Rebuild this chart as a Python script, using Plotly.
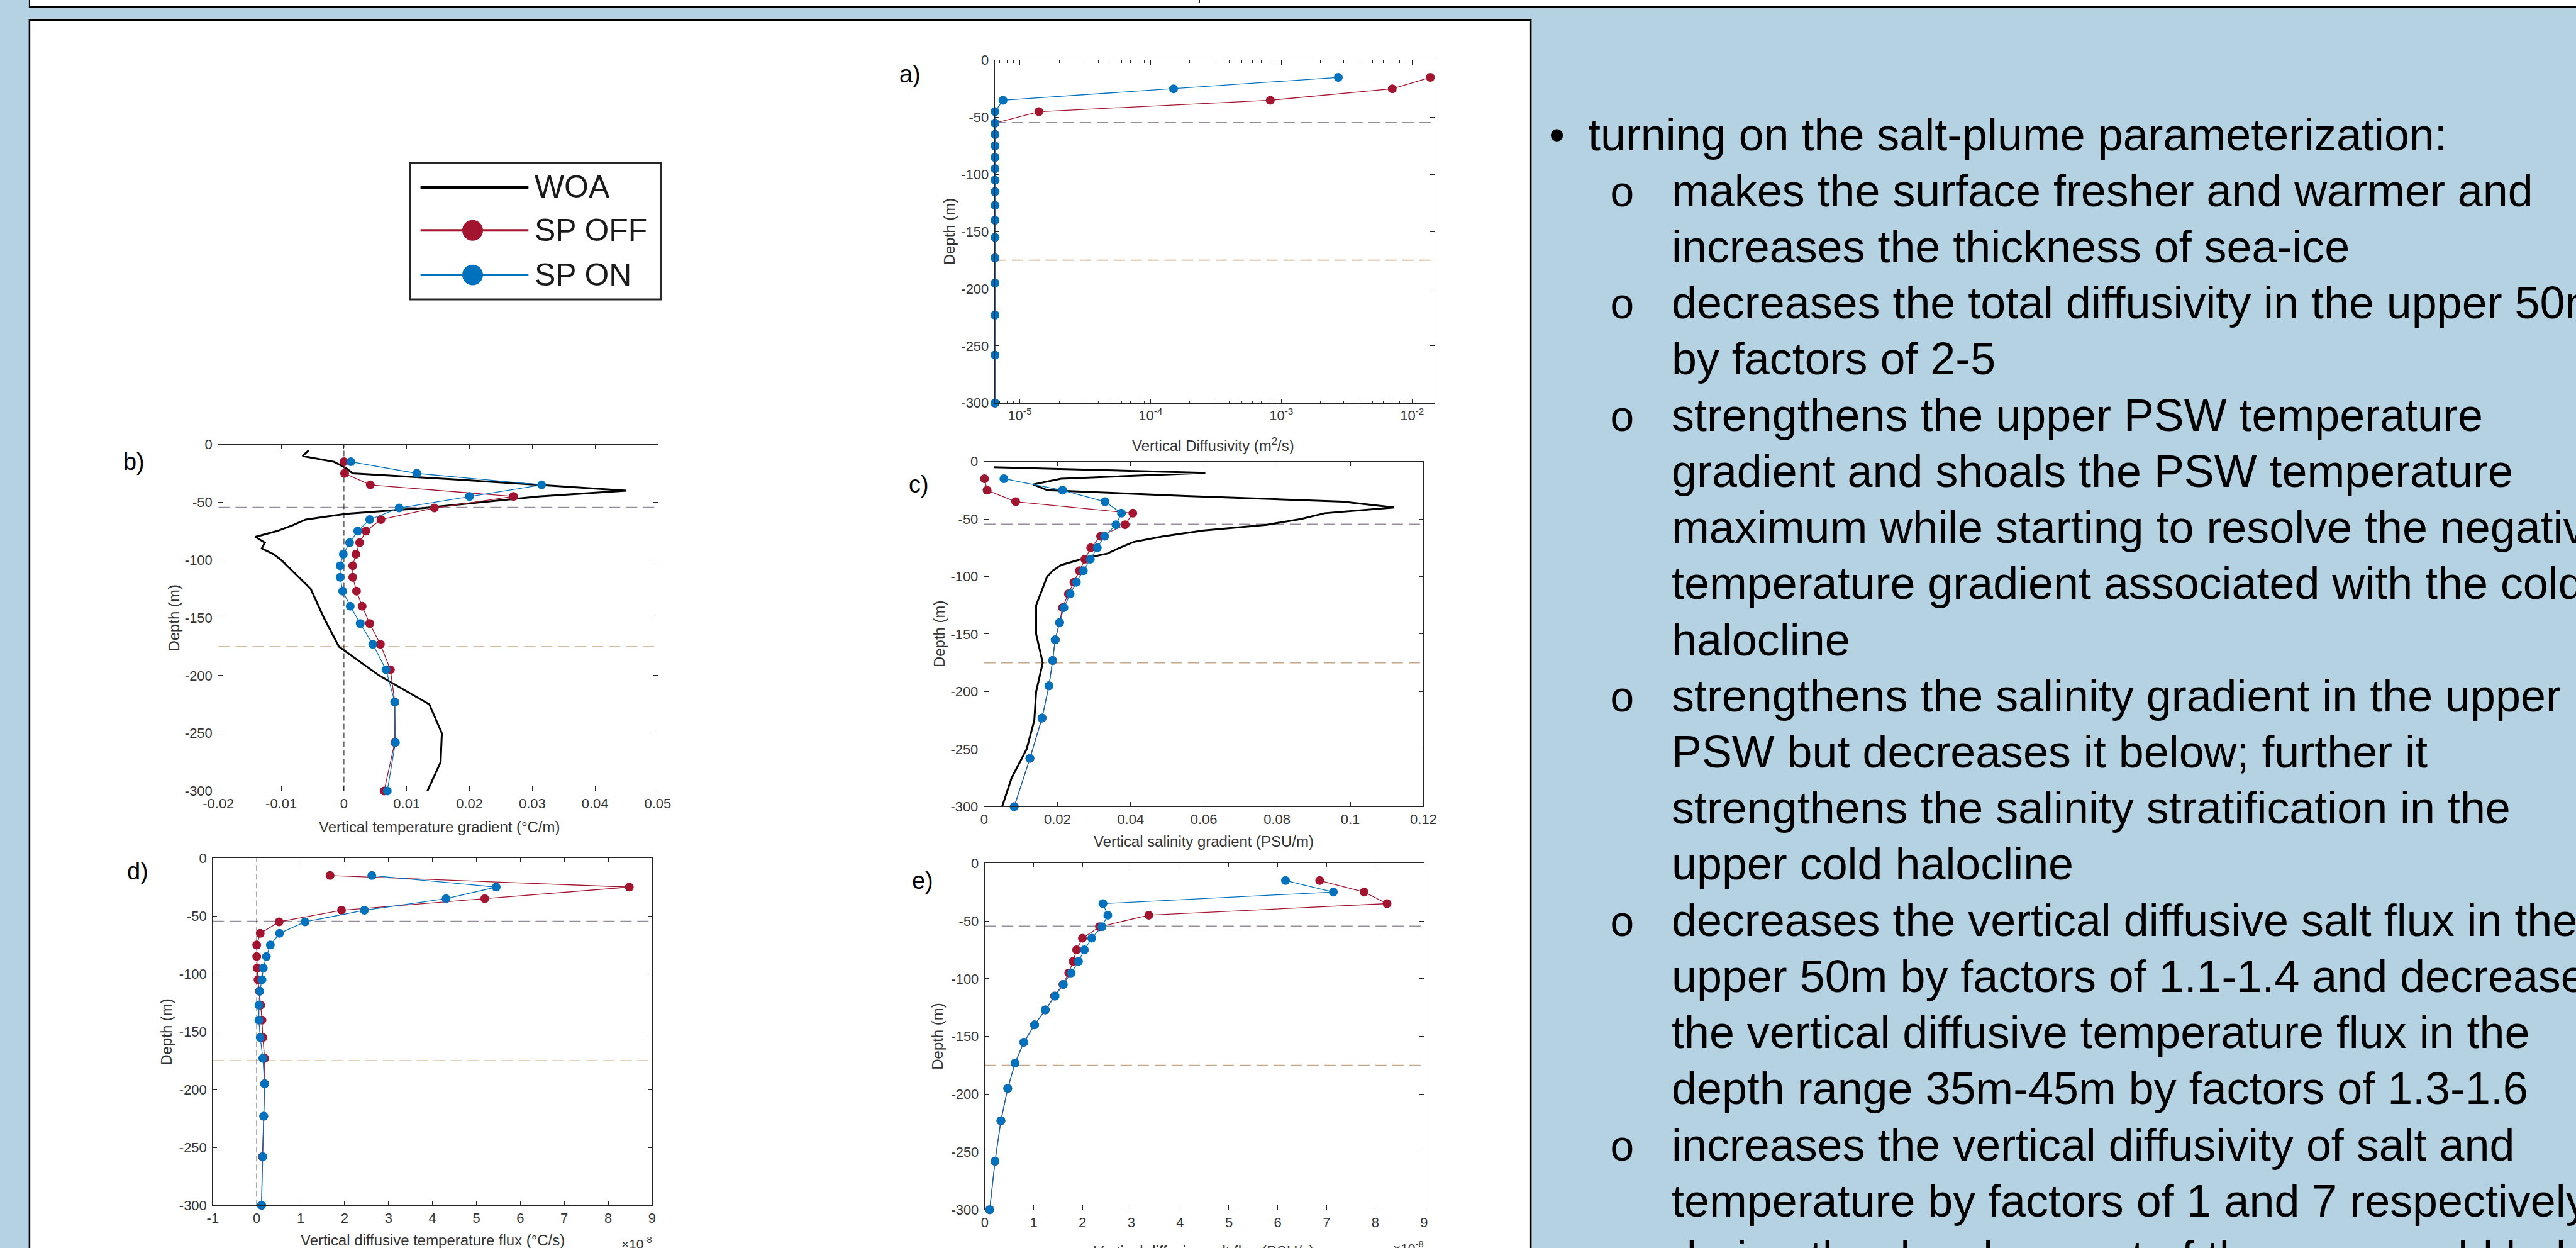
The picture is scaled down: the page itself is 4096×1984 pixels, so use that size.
import plotly.graph_objects as go

# ---------------- data ----------------
model_depth = [-15, -25, -35, -45, -55, -65, -75, -85, -95, -105, -115, -127,
               -140, -155, -173, -195, -223, -258, -300]
woa_depth = [-5, -10, -15, -20, -25, -30, -35, -40, -45, -50, -55, -60, -65, -70,
             -75, -80, -85, -90, -95, -100, -125, -150, -175, -200, -225, -250, -275, -300]

# a) vertical diffusivity (m2/s)
kappa_sp_off = [1.38e-2, 7.06e-3, 8.24e-4, 1.40e-5, 6.47e-6, 6.47e-6, 6.47e-6, 6.47e-6,
                6.47e-6, 6.47e-6, 6.47e-6, 6.47e-6, 6.47e-6, 6.47e-6, 6.47e-6, 6.47e-6,
                6.47e-6, 6.47e-6, 6.47e-6]
kappa_sp_on = [2.73e-3, 1.50e-4, 7.45e-6, 6.47e-6, 6.47e-6, 6.47e-6, 6.47e-6, 6.47e-6,
               6.47e-6, 6.47e-6, 6.47e-6, 6.47e-6, 6.47e-6, 6.47e-6, 6.47e-6, 6.47e-6,
               6.47e-6, 6.47e-6, 6.47e-6]

# b) vertical temperature gradient (degC/m)
dTdz_woa = [-0.0056, -0.0066, -0.0016, 0.0002, 0.0014, 0.017, 0.031, 0.045, 0.031, 0.0216,
            0.0129, 0.0004, -0.0061, -0.0082, -0.0107, -0.0141, -0.0126, -0.0131, -0.0112,
            -0.0100, -0.0053, -0.0032, -0.0008, 0.0056, 0.0136, 0.0156, 0.0154, 0.0133]
dTdz_sp_off = [0.0, 0.0001, 0.0042, 0.0270, 0.0144, 0.0059, 0.0035, 0.0025, 0.0019, 0.0014,
               0.0014, 0.0020, 0.0029, 0.0041, 0.0058, 0.0074, 0.0081, 0.0081, 0.0064]
dTdz_sp_on = [0.0011, 0.0116, 0.0315, 0.0200, 0.0088, 0.0041, 0.0022, 0.0009, -0.0001,
              -0.0006, -0.0006, -0.0002, 0.0010, 0.0026, 0.0046, 0.0067, 0.0081, 0.0082, 0.0069]

# c) vertical salinity gradient (PSU/m)
dSdz_woa = [0.0026, 0.0604, 0.021, 0.0134, 0.0173, 0.055, 0.098, 0.112, 0.093, 0.0866,
            0.0772, 0.060, 0.049, 0.0408, 0.037, 0.0337, 0.0265, 0.021, 0.0187, 0.0172,
            0.0142, 0.0142, 0.016, 0.0142, 0.0137, 0.0116, 0.0075, 0.0049]
dSdz_sp_off = [0.0001, 0.0008, 0.0086, 0.0406, 0.0385, 0.0318, 0.0291, 0.0275, 0.0260,
               0.0245, 0.0230, 0.0214, 0.0206, 0.0194, 0.0187, 0.0177, 0.0158, 0.0125, 0.0082]
dSdz_sp_on = [0.0054, 0.0214, 0.0330, 0.0375, 0.0360, 0.0329, 0.0309, 0.0290, 0.0271,
              0.0252, 0.0235, 0.0218, 0.0206, 0.0194, 0.0187, 0.0177, 0.0158, 0.0125, 0.0082]

# d) vertical diffusive temperature flux (x1e-8 degC/s)
tflux_sp_off = [1.67, 8.48, 5.19, 1.93, 0.51, 0.08, 0.0, 0.0, 0.01, 0.03, 0.06, 0.09,
                0.12, 0.14, 0.18, 0.18, 0.16, 0.13, 0.11]
tflux_sp_on = [2.62, 5.45, 4.31, 2.45, 1.10, 0.52, 0.31, 0.22, 0.15, 0.12, 0.07, 0.05,
               0.05, 0.08, 0.14, 0.18, 0.16, 0.14, 0.11]

# e) vertical diffusive salt flux (x1e-8 PSU/s)
sflux_sp_off = [6.86, 7.77, 8.24, 3.36, 2.35, 2.00, 1.88, 1.81, 1.72, 1.60, 1.43, 1.24,
                1.02, 0.80, 0.62, 0.47, 0.33, 0.21, 0.10]
sflux_sp_on = [6.16, 7.14, 2.42, 2.52, 2.40, 2.19, 2.04, 1.92, 1.77, 1.61, 1.44, 1.24,
               1.02, 0.80, 0.62, 0.47, 0.33, 0.21, 0.10]

# horizontal reference depths (dashed lines)
ref_depths = [-54.5, -175]

depth_ticks = [-300, -250, -200, -150, -100, -50, 0]
depth_ticktext = ["-300", "-250", "-200", "-150", "-100", "-50", "0"]
a_ticks = [1e-5, 1e-4, 1e-3, 1e-2]
a_ticktext = ["10<sup>-5</sup>", "10<sup>-4</sup>", "10<sup>-3</sup>", "10<sup>-2</sup>"]
b_ticks = [-0.02, -0.01, 0, 0.01, 0.02, 0.03, 0.04, 0.05]
b_ticktext = ["-0.02", "-0.01", "0", "0.01", "0.02", "0.03", "0.04", "0.05"]
c_ticks = [0, 0.02, 0.04, 0.06, 0.08, 0.1, 0.12]
c_ticktext = ["0", "0.02", "0.04", "0.06", "0.08", "0.1", "0.12"]
d_ticks = [-1, 0, 1, 2, 3, 4, 5, 6, 7, 8, 9]
d_ticktext = ["-1", "0", "1", "2", "3", "4", "5", "6", "7", "8", "9"]
e_ticks = [0, 1, 2, 3, 4, 5, 6, 7, 8, 9]
e_ticktext = ["0", "1", "2", "3", "4", "5", "6", "7", "8", "9"]

legend_labels = ["WOA", "SP OFF", "SP ON"]

right_lines = [
    ("•", "turning on the salt-plume parameterization:"),
    ("o", "makes the surface fresher and warmer and"),
    ("", "increases the thickness of sea-ice"),
    ("o", "decreases the total diffusivity in the upper 50m"),
    ("", "by factors of 2-5"),
    ("o", "strengthens the upper PSW temperature"),
    ("", "gradient and shoals the PSW temperature"),
    ("", "maximum while starting to resolve the negative"),
    ("", "temperature gradient associated with the cold"),
    ("", "halocline"),
    ("o", "strengthens the salinity gradient in the upper"),
    ("", "PSW but decreases it below; further it"),
    ("", "strengthens the salinity stratification in the"),
    ("", "upper cold halocline"),
    ("o", "decreases the vertical diffusive salt flux in the"),
    ("", "upper 50m by factors of 1.1-1.4 and decreases"),
    ("", "the vertical diffusive temperature flux in the"),
    ("", "depth range 35m-45m by factors of 1.3-1.6"),
    ("o", "increases the vertical diffusivity of salt and"),
    ("", "temperature by factors of 1 and 7 respectively"),
    ("", "during the development of the upper cold halocline"),
]

# ---------------- geometry helpers ----------------
S = 0.998
W, H = 4096, 1984


def px(v):
    return v * S / W


def py(v):
    return 1 - v * S / H


def fs(v):
    return v * S


FONT = "Liberation Sans"
RED = "#A2142F"
BLUE = "#0072BD"
AXC = "#262626"
TXC = "#333333"
BG = "#B4D2E2"
REF_COLORS = ["rgb(150,140,158)", "rgb(196,168,135)"]

fig = go.Figure()

# panel definitions: (left, right, top, bottom) in reference pixels
panels = [
    dict(name="a", box=(1585, 2286, 96, 642), letter=(1450, 118), xtitle=(1933, 708),
         ytitle=1512, title="Vertical Diffusivity (m<sup>2</sup>/s)"),
    dict(name="b", box=(348, 1048, 708, 1260), letter=(213, 735), xtitle=(700, 1317),
         ytitle=277, title="Vertical temperature gradient (°C/m)"),
    dict(name="c", box=(1568, 2268, 735, 1285), letter=(1464, 772), xtitle=(1918, 1340),
         ytitle=1497, title="Vertical salinity gradient (PSU/m)"),
    dict(name="d", box=(339, 1039, 1367, 1920), letter=(219, 1388), xtitle=(689, 1975),
         ytitle=265, title="Vertical diffusive temperature flux (°C/s)"),
    dict(name="e", box=(1569, 2269, 1375, 1927), letter=(1470, 1403), xtitle=(1918, 1993),
         ytitle=1494, title="Vertical diffusive salt flux (PSU/s)"),
]

series = {
    "a": (None, kappa_sp_off, kappa_sp_on),
    "b": (dTdz_woa, dTdz_sp_off, dTdz_sp_on),
    "c": (dSdz_woa, dSdz_sp_off, dSdz_sp_on),
    "d": (None, tflux_sp_off, tflux_sp_on),
    "e": (None, sflux_sp_off, sflux_sp_on),
}
xaxes_cfg = {
    "a": dict(type="log", range=[-5.1905, -1.826], tickvals=a_ticks, ticktext=a_ticktext),
    "b": dict(range=[-0.02, 0.05], tickvals=b_ticks, ticktext=b_ticktext),
    "c": dict(range=[0, 0.12], tickvals=c_ticks, ticktext=c_ticktext),
    "d": dict(range=[-1, 9], tickvals=d_ticks, ticktext=d_ticktext),
    "e": dict(range=[0, 9], tickvals=e_ticks, ticktext=e_ticktext),
}

common = dict(showline=True, linecolor=AXC, linewidth=1.3, mirror="allticks",
              ticks="inside", ticklen=7, tickwidth=1.2, tickcolor=AXC,
              showgrid=False, zeroline=False, tickmode="array",
              tickfont=dict(family=FONT, size=fs(22), color=TXC),
              automargin=False, fixedrange=True)

annotations = []
shapes = []

for i, p in enumerate(panels):
    n = "" if i == 0 else str(i + 1)
    xr, yr = "x" + n, "y" + n
    L, R, T, B = p["box"]
    woa, off, on = series[p["name"]]
    if woa is not None:
        fig.add_trace(go.Scatter(x=woa, y=woa_depth, mode="lines", xaxis=xr, yaxis=yr,
                                 line=dict(color="black", width=3), cliponaxis=False,
                                 name="WOA", showlegend=False))
    fig.add_trace(go.Scatter(x=off, y=model_depth, mode="lines+markers", xaxis=xr, yaxis=yr,
                             line=dict(color=RED, width=1.3),
                             marker=dict(color=RED, size=14, line=dict(width=0)),
                             cliponaxis=False, name="SP OFF", showlegend=False))
    fig.add_trace(go.Scatter(x=on, y=model_depth, mode="lines+markers", xaxis=xr, yaxis=yr,
                             line=dict(color=BLUE, width=1.3),
                             marker=dict(color=BLUE, size=14, line=dict(width=0)),
                             cliponaxis=False, name="SP ON", showlegend=False))

    xcfg = dict(common)
    xcfg.update(xaxes_cfg[p["name"]])
    xcfg.update(domain=[px(L), px(R)], anchor=yr)
    if p["name"] == "a":
        minor_vals = [m * 10 ** e for e in (-6, -5, -4, -3) for m in range(2, 10)
                      if 6.5e-6 < m * 10 ** e < 1.48e-2]
        xcfg["minor"] = dict(ticks="inside", ticklen=4, tickwidth=1, tickcolor=AXC,
                             tickmode="array", tickvals=minor_vals, showgrid=False)
    ycfg = dict(common)
    ycfg.update(domain=[py(B), py(T)], anchor=xr, range=[-300, 0],
                tickvals=depth_ticks, ticktext=depth_ticktext, ticklabelstandoff=4)
    fig.layout["xaxis" + n] = xcfg
    fig.layout["yaxis" + n] = ycfg

    # dashed reference depths
    for d, c in zip(ref_depths, REF_COLORS):
        shapes.append(dict(type="line", xref=xr + " domain", x0=0, x1=1, yref=yr, y0=d, y1=d,
                           line=dict(color=c, width=1.6, dash="18px,9px"), layer="below"))
    if p["name"] in ("b", "d"):
        shapes.append(dict(type="line", xref=xr, x0=0, x1=0, yref=yr + " domain", y0=0, y1=1,
                           line=dict(color="#222222", width=1.1, dash="9px,5px"), layer="below"))

    # panel letter
    lx, ly = p["letter"]
    annotations.append(dict(text=p["name"] + ")", x=px(lx), y=py(ly), xref="paper", yref="paper",
                            xanchor="center", yanchor="middle", showarrow=False,
                            font=dict(family=FONT, size=fs(38), color="black")))
    # axis titles
    tx, ty = p["xtitle"]
    annotations.append(dict(text=p["title"], x=px(tx), y=py(ty), xref="paper", yref="paper",
                            xanchor="center", yanchor="middle", showarrow=False,
                            font=dict(family=FONT, size=fs(24), color=TXC)))
    annotations.append(dict(text="Depth (m)", x=px(p["ytitle"]), y=py((T + B) / 2), xref="paper",
                            yref="paper", xanchor="center", yanchor="middle", textangle=-90,
                            showarrow=False, font=dict(family=FONT, size=fs(24), color=TXC)))
    if p["name"] in ("d", "e"):
        annotations.append(dict(text="×10<sup>-8</sup>", x=px(R + 2), y=py(B + 60),
                                xref="paper", yref="paper", xanchor="right", yanchor="middle",
                                showarrow=False, font=dict(family=FONT, size=fs(21), color=TXC)))

# ---------------- page decoration ----------------
deco = [
    # top white strip
    dict(type="rect", xref="paper", yref="paper", x0=px(47), x1=px(4120), y0=py(-10), y1=py(11),
         fillcolor="white", line=dict(color="black", width=2), layer="below"),
    dict(type="line", xref="paper", yref="paper", x0=px(47), x1=px(4120), y0=py(11), y1=py(11),
         line=dict(color="black", width=3.5), layer="below"),
    dict(type="line", xref="paper", yref="paper", x0=px(1911), x1=px(1911), y0=py(0), y1=py(4),
         line=dict(color="black", width=1.5), layer="below"),
    # main white panel
    dict(type="rect", xref="paper", yref="paper", x0=px(47), x1=px(2439), y0=py(2050), y1=py(32),
         fillcolor="white", line=dict(color="black", width=2.5), layer="below"),
    dict(type="line", xref="paper", yref="paper", x0=px(47), x1=px(2439), y0=py(32), y1=py(32),
         line=dict(color="black", width=4), layer="below"),
]
shapes = deco + shapes

# ---------------- legend (drawn by hand) ----------------
leg_rows = [298, 367, 438]
leg_colors = ["black", RED, BLUE]
shapes.append(dict(type="rect", xref="paper", yref="paper", x0=px(653), x1=px(1053),
                   y0=py(477), y1=py(259), fillcolor="white",
                   line=dict(color=AXC, width=3), layer="below"))
for row, col, lab in zip(leg_rows, leg_colors, legend_labels):
    shapes.append(dict(type="line", xref="paper", yref="paper", x0=px(670), x1=px(842),
                       y0=py(row), y1=py(row),
                       line=dict(color=col, width=5 if lab == "WOA" else 4), layer="below"))
    if lab != "WOA":
        r = 16.5
        shapes.append(dict(type="circle", xref="paper", yref="paper", x0=px(753 - r),
                           x1=px(753 + r), y0=py(row + r), y1=py(row - r), fillcolor=col,
                           line=dict(width=0), layer="below"))
    annotations.append(dict(text=lab, x=px(850), y=py(row), xref="paper", yref="paper",
                            xanchor="left", yanchor="middle", showarrow=False,
                            font=dict(family=FONT, size=fs(50), color="#1a1a1a")))

# ---------------- right-hand text ----------------
for k, (bul, txt) in enumerate(right_lines):
    base = 239 + 89.4 * k
    cy = base - 25
    if bul == "•":
        annotations.append(dict(text="•", x=px(2466), y=py(cy), xref="paper", yref="paper",
                                xanchor="left", yanchor="middle", showarrow=False,
                                font=dict(family=FONT, size=fs(72), color="black")))
        tx0 = 2528
    else:
        tx0 = 2661
        if bul == "o":
            annotations.append(dict(text="o", x=px(2585), y=py(base - 18), xref="paper",
                                    yref="paper", xanchor="center", yanchor="middle",
                                    showarrow=False,
                                    font=dict(family="Liberation Mono", size=fs(68),
                                              color="black")))
    annotations.append(dict(text=txt, x=px(tx0), y=py(cy), xref="paper", yref="paper",
                            xanchor="left", yanchor="middle", showarrow=False,
                            font=dict(family=FONT, size=fs(72), color="black")))

fig.update_layout(width=W, height=H, autosize=False, margin=dict(l=0, r=0, t=0, b=0),
                  paper_bgcolor=BG, plot_bgcolor="white", showlegend=False,
                  shapes=shapes, annotations=annotations)

fig.write_html("out.html")
